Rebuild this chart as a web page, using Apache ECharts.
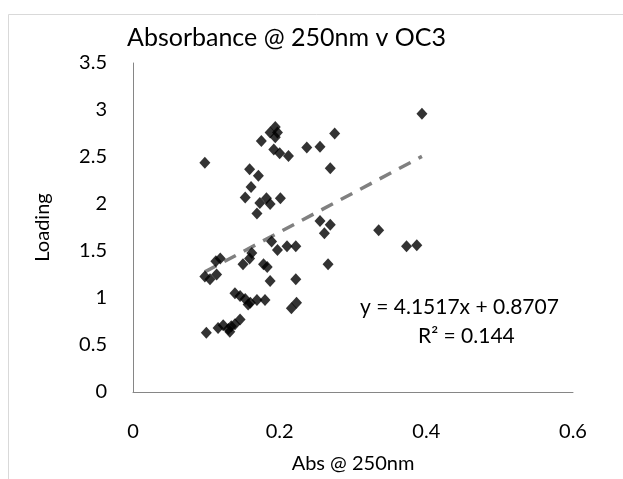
<!DOCTYPE html>
<html>
<head>
<meta charset="utf-8">
<script src="https://cdn.jsdelivr.net/npm/echarts@6/dist/echarts.min.js"></script>
<style>html,body{margin:0;padding:0;background:#fff;}#c{width:623px;height:479px;}</style>
</head>
<body>
<div id="c"></div>
<script>
var titleText = 'Absorbance @ 250nm v OC3';
var xName = 'Abs @ 250nm';
var yName = 'Loading';
var xTicks = [0, 0.2, 0.4, 0.6];
var yTicks = [0, 0.5, 1, 1.5, 2, 2.5, 3, 3.5];
var absX = [0.394,0.275,0.237,0.255,0.269,
  0.194,0.187,0.197,0.194,0.175,0.192,0.200,0.212,
  0.098,0.159,0.171,0.161,
  0.153,0.173,0.182,0.187,0.169,0.201,
  0.255,0.269,0.261,0.335,0.373,0.387,
  0.189,0.197,0.210,0.222,0.162,0.159,0.150,0.178,0.183,0.266,
  0.119,0.113,0.098,0.105,0.114,
  0.187,0.222,
  0.139,0.146,0.153,0.160,0.157,0.169,0.180,
  0.216,0.223,
  0.100,0.116,0.123,0.130,0.134,0.139,0.146,0.132];
var loading = [2.96,2.75,2.60,2.61,2.38,
  2.82,2.76,2.76,2.71,2.67,2.58,2.54,2.51,
  2.44,2.37,2.30,2.18,
  2.07,2.01,2.06,2.00,1.90,2.06,
  1.82,1.78,1.69,1.72,1.55,1.56,
  1.60,1.51,1.55,1.55,1.48,1.42,1.36,1.36,1.33,1.36,
  1.42,1.39,1.23,1.20,1.25,
  1.18,1.20,
  1.05,1.02,0.99,0.95,0.93,0.98,0.98,
  0.89,0.95,
  0.63,0.68,0.71,0.67,0.70,0.72,0.77,0.64];
var slope = 4.1517, intercept = 0.8707, r2 = 0.144;
var eqText = 'y = ' + slope + 'x + ' + intercept;
var r2Text = 'R² = ' + r2;

var pts = absX.map(function(x, i){ return [x, loading[i]]; });
var xmin = Math.min.apply(null, absX), xmax = Math.max.apply(null, absX);
var trend = [[xmin, slope*xmin + intercept], [xmax, slope*xmax + intercept]];

var font = 'Lato, "Open Sans", sans-serif';
var chart = echarts.init(document.getElementById('c'), null, {renderer:'canvas'});
chart.setOption({
  backgroundColor: '#fff',
  animation: false,
  title: {
    text: titleText, left: 122, top: 20,
    textStyle: {fontFamily: font, fontSize: 25, fontWeight: 'normal', color: '#000'}
  },
  grid: {left: 133, right: 50, top: 63, bottom: 82},
  graphic: [
    {type:'rect', left: 6, top: 12, shape:{width: 640, height: 490}, style:{fill:'none', stroke:'#d9d9d9', lineWidth:1}, silent:true},
    {type:'text', left: 360, top: 297, style:{text: eqText, fontFamily: font, fontSize: 21, fill:'#000'}},
    {type:'text', left: 418, top: 326, style:{text: r2Text, fontFamily: font, fontSize: 21, fill:'#000'}}
  ],
  xAxis: {
    type: 'value', min: xTicks[0], max: xTicks[xTicks.length-1], interval: 0.2,
    name: xName, nameLocation: 'middle', nameGap: 62,
    nameTextStyle: {fontFamily: font, fontSize: 20, color: '#000'},
    axisLine: {show: true, lineStyle: {color: '#868686', width: 1}},
    axisTick: {show: false},
    splitLine: {show: false},
    axisLabel: {fontFamily: font, fontSize: 20, color: '#000', margin: 30}
  },
  yAxis: {
    type: 'value', min: yTicks[0], max: yTicks[yTicks.length-1], interval: 0.5,
    name: yName, nameLocation: 'middle', nameGap: 80,
    nameTextStyle: {fontFamily: font, fontSize: 20, color: '#000'},
    axisLine: {show: true, lineStyle: {color: '#868686', width: 1}},
    axisTick: {show: false},
    splitLine: {show: false},
    axisLabel: {fontFamily: font, fontSize: 20, color: '#000', margin: 26}
  },
  series: [
    {type: 'line', data: trend, symbol: 'none', silent: true, z: 1,
     lineStyle: {color: '#808080', width: 3.5, type: [13, 9]}},
    {type: 'scatter', data: pts, symbol: 'diamond', symbolSize: [11, 12], z: 2,
     itemStyle: {color: '#000'}}
  ]
});
</script>
</body>
</html>
